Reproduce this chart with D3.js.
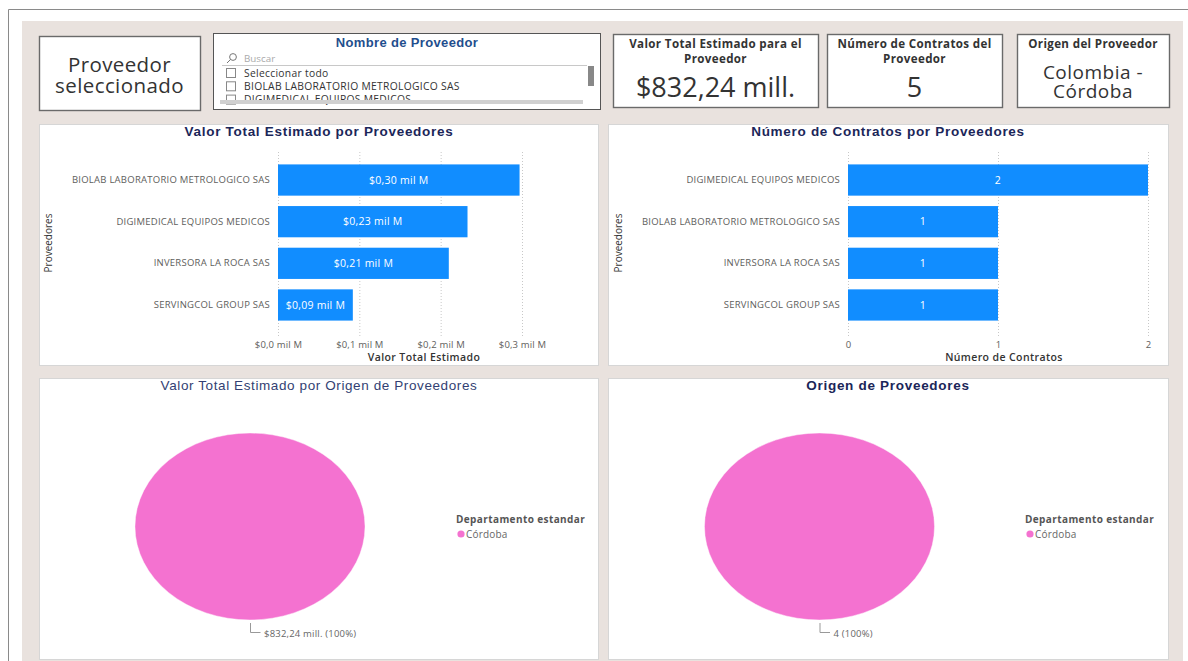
<!DOCTYPE html>
<html>
<head>
<meta charset="utf-8">
<script src="https://cdn.jsdelivr.net/npm/d3@7"></script>
<style>
  body { margin: 0; background: #fff; }
  svg { display: block; }
</style>
</head>
<body>
<div id="chart"></div>
<script>
var width = 1188, height = 661;

// data
var proveedoresValor = ["BIOLAB LABORATORIO METROLOGICO SAS", "DIGIMEDICAL EQUIPOS MEDICOS", "INVERSORA LA ROCA SAS", "SERVINGCOL GROUP SAS"];
var valorTotal = [0.297, 0.233, 0.210, 0.092];   // mil M
var valorTicks = [0, 0.1, 0.2, 0.3];

var proveedoresContratos = ["DIGIMEDICAL EQUIPOS MEDICOS", "BIOLAB LABORATORIO METROLOGICO SAS", "INVERSORA LA ROCA SAS", "SERVINGCOL GROUP SAS"];
var numContratos = [2, 1, 1, 1];
var contratoTicks = [0, 1, 2];

var departamentos = ["Córdoba"];
var valorPorDepto = [832.24];   // mill.
var conteoPorDepto = [4];

var slicerItems = ["Seleccionar todo", "BIOLAB LABORATORIO METROLOGICO SAS", "DIGIMEDICAL EQUIPOS MEDICOS"];
var cardValor = "$832,24 mill.", cardContratos = "5", cardOrigen = ["Colombia -", "Córdoba"];

var blue = "#118DFF", pink = "#F472D0";
var sans = "'Open Sans', 'Noto Sans', sans-serif";
var arial = "'Liberation Sans', Arial, sans-serif";

var svg = d3.select("#chart").append("svg")
    .attr("width", width)
    .attr("height", height);

// page frame + report background
svg.append("path").attr("d", "M8.5,661V9.5H1188").attr("fill", "none").attr("stroke", "#8a8a8a");
svg.append("rect").attr("x", 22).attr("y", 21).attr("width", 1161).attr("height", 650).attr("fill", "#e9e2de");

function fmtComma(v, d) { return v.toFixed(d).replace(".", ","); }

// multi-line text as one element
function lines(x, y0, dy, arr, font, color, ls) {
  var t = svg.append("text").attr("text-anchor", "middle").style("font", font)
    .style("letter-spacing", (ls || 0) + "px").attr("fill", color);
  t.selectAll("tspan").data(arr).enter().append("tspan")
    .attr("x", x).attr("y", function(d, i) { return y0 + i * dy; }).text(function(d) { return d; });
  return t;
}

// ---------- top row ----------
function card(x, y, w, h) {
  return svg.append("rect").attr("x", x + 0.5).attr("y", y + 0.5).attr("width", w).attr("height", h)
    .attr("fill", "#fff").attr("stroke", "#6a6a6a").attr("stroke-width", 1.4);
}
card(39, 36, 161, 74);
lines(119.5, 71.5, 21.5, ["Proveedor", "seleccionado"], "20.5px " + sans, "#333", 0.4);

// slicer
card(213, 33, 387, 76).attr("stroke", "#555").attr("stroke-width", 1);
svg.append("text").attr("x", 407).attr("y", 46.5).attr("text-anchor", "middle")
  .style("font", "bold 13px " + arial).style("letter-spacing", "0.35px").attr("fill", "#1f4e8d").text("Nombre de Proveedor");
svg.append("circle").attr("cx", 233).attr("cy", 57).attr("r", 3.4).attr("fill", "none").attr("stroke", "#777");
svg.append("line").attr("x1", 230.6).attr("y1", 59.4).attr("x2", 227).attr("y2", 63).attr("stroke", "#777");
svg.append("text").attr("x", 244).attr("y", 62).style("font", "9.8px " + sans).attr("fill", "#aaa").text("Buscar");
svg.append("line").attr("x1", 222).attr("x2", 587).attr("y1", 65.5).attr("y2", 65.5).attr("stroke", "#c8c8c8");
var items = svg.append("g").selectAll("g").data(slicerItems).enter().append("g")
  .attr("transform", function(d, i) { return "translate(0," + (73 + i * 13.3) + ")"; });
items.append("rect").attr("x", 226.5).attr("y", -4.5).attr("width", 9).attr("height", 9)
  .attr("fill", "#fff").attr("stroke", "#888");
items.append("text").attr("x", 244).attr("y", 3.6).style("font", "10.3px " + sans).style("letter-spacing", "0.3px")
  .attr("fill", "#333").text(function(d) { return d; });
svg.append("rect").attr("x", 588).attr("y", 66).attr("width", 6).attr("height", 20).attr("fill", "#888");
svg.append("rect").attr("x", 220).attr("y", 100).attr("width", 363).attr("height", 4).attr("fill", "#d0d0d0");

function kpi(x, w, title, vals, size, y0, dy, ls) {
  card(x, 34, w, 73);
  lines(x + w / 2, 48, 15, title, "bold 11.6px " + sans, "#333", 0.35);
  lines(x + w / 2, y0, dy, vals, size + "px " + sans, "#333", ls);
}
kpi(613, 205, ["Valor Total Estimado para el", "Proveedor"], [cardValor], 27, 97, 0, 0);
kpi(827, 175, ["Número de Contratos del", "Proveedor"], [cardContratos], 27, 97, 0, 0);
kpi(1017, 152, ["Origen del Proveedor"], cardOrigen, 19, 78.5, 19.5, 0.5);

// ---------- panels ----------
function panel(x, y, w, h) {
  svg.append("rect").attr("x", x + 0.5).attr("y", y + 0.5).attr("width", w).attr("height", h)
    .attr("fill", "#fff").attr("stroke", "#d6d6d6");
}
panel(39, 124, 559, 241);
panel(608, 124, 560, 241);
panel(39, 378, 559, 281);
panel(608, 378, 560, 281);

function title(cx, y, txt, bold) {
  svg.append("text").attr("x", cx).attr("y", y).attr("text-anchor", "middle")
    .style("font", (bold ? "bold " : "") + "13.5px " + arial)
    .style("letter-spacing", (bold ? 0.7 : 0.6) + "px")
    .attr("fill", bold ? "#1b2659" : "#333f73").text(txt);
}
title(319, 136, "Valor Total Estimado por Proveedores", true);
title(888, 136, "Número de Contratos por Proveedores", true);
title(319, 390, "Valor Total Estimado por Origen de Proveedores", false);
title(888, 390, "Origen de Proveedores", true);

// ---------- bar charts ----------
function barChart(cats, vals, ticks, x0, x1, labelFmt, tickFmt, axisTitle, titleX, ytitleX) {
  var x = d3.scaleLinear().domain([0, ticks[ticks.length - 1]]).range([x0, x1]);
  var y = d3.scaleBand().domain(cats).range([154, 331]).paddingInner(0.25).paddingOuter(0.25);
  var g = svg.append("g");

  var xAxis = g.append("g").attr("transform", "translate(0,338)")
    .call(d3.axisBottom(x).tickValues(ticks).tickFormat(tickFmt).tickSize(186).tickPadding(-180));
  xAxis.select(".domain").remove();
  xAxis.selectAll(".tick line").attr("transform", "translate(0,-186)")
    .attr("stroke", "#c8c8c8").attr("stroke-dasharray", "1,2");
  xAxis.selectAll(".tick text").attr("y", 10).attr("dy", 0)
    .style("font", "9.5px " + sans).style("letter-spacing", "0.15px").attr("fill", "#605e5c");

  var yAxis = g.append("g").attr("transform", "translate(" + (x0 - 8) + ",0)")
    .call(d3.axisLeft(y).tickSize(0).tickPadding(0));
  yAxis.select(".domain").remove();
  yAxis.selectAll("text").style("font", "9.5px " + sans).style("letter-spacing", "0.25px").attr("fill", "#605e5c");

  g.selectAll(".bar").data(vals).enter().append("rect")
    .attr("class", "bar")
    .attr("x", x(0))
    .attr("y", function(d, i) { return y(cats[i]); })
    .attr("width", function(d) { return x(d) - x(0); })
    .attr("height", y.bandwidth())
    .attr("fill", blue);
  g.selectAll(".lbl").data(vals).enter().append("text")
    .attr("class", "lbl")
    .attr("x", function(d) { return (x(0) + x(d)) / 2; })
    .attr("y", function(d, i) { return y(cats[i]) + y.bandwidth() / 2 + 3.7; })
    .attr("text-anchor", "middle")
    .style("font", "10.5px " + sans).style("letter-spacing", "0.25px").attr("fill", "#fff")
    .text(labelFmt);

  g.append("text").attr("x", titleX).attr("y", 361).attr("text-anchor", "middle")
    .style("font", "600 10.5px " + sans).style("letter-spacing", "0.4px").attr("fill", "#333").text(axisTitle);
  g.append("text").attr("transform", "translate(" + ytitleX + ",243) rotate(-90)").attr("text-anchor", "middle")
    .style("font", "10px " + sans).attr("fill", "#333").text("Proveedores");
}
barChart(proveedoresValor, valorTotal, valorTicks, 278, 522,
  function(d) { return "$" + fmtComma(d, 2) + " mil M"; },
  function(d) { return "$" + fmtComma(d, 1) + " mil M"; },
  "Valor Total Estimado", 424, 52);
barChart(proveedoresContratos, numContratos, contratoTicks, 848, 1148,
  function(d) { return d; }, function(d) { return d; },
  "Número de Contratos", 1004, 622);

// ---------- pies ----------
function pieChart(cx, vals, labelFmt, legendX) {
  var rx = 115, ry = 93.5, cy = 526.5;
  var arcs = d3.pie().sort(null)(vals);
  var arc = d3.arc().innerRadius(0).outerRadius(rx);
  var g = svg.append("g").attr("transform", "translate(" + cx + "," + cy + ") scale(1," + (ry / rx) + ")");
  g.selectAll("path").data(arcs).enter().append("path")
    .attr("d", arc).attr("fill", pink).attr("stroke", "#fff").attr("stroke-width", 0.5);

  arcs.forEach(function(a) {
    var ang = (a.startAngle + a.endAngle) / 2;
    var px = cx + Math.sin(ang) * rx, py = cy - Math.cos(ang) * ry;
    svg.append("path").attr("d", "M" + (px + 0.5) + "," + (py + 3) + "V" + (py + 12.5) + "h10")
      .attr("fill", "none").attr("stroke", "#999");
    svg.append("text").attr("x", px + 14).attr("y", py + 16.5)
      .style("font", "9.5px " + sans).style("letter-spacing", "0.2px").attr("fill", "#666").text(labelFmt(a.data, a));
  });

  svg.append("text").attr("x", legendX).attr("y", 522.5)
    .style("font", "bold 10px " + sans).style("letter-spacing", "0.4px").attr("fill", "#555").text("Departamento estandar");
  var leg = svg.append("g").selectAll("g").data(departamentos).enter().append("g")
    .attr("transform", function(d, i) { return "translate(" + legendX + "," + (534 + i * 14) + ")"; });
  leg.append("circle").attr("cx", 5).attr("cy", 0).attr("r", 3.6).attr("fill", pink);
  leg.append("text").attr("x", 10).attr("y", 3.6).style("font", "10px " + sans).style("letter-spacing", "0.2px")
    .attr("fill", "#666").text(function(d) { return d; });
}
var totalValor = d3.sum(valorPorDepto), totalConteo = d3.sum(conteoPorDepto);
pieChart(250, valorPorDepto, function(d) {
  return "$" + fmtComma(d, 2) + " mill. (" + Math.round(d / totalValor * 100) + "%)";
}, 456);
pieChart(819.5, conteoPorDepto, function(d) {
  return d + " (" + Math.round(d / totalConteo * 100) + "%)";
}, 1025);
</script>
</body>
</html>
